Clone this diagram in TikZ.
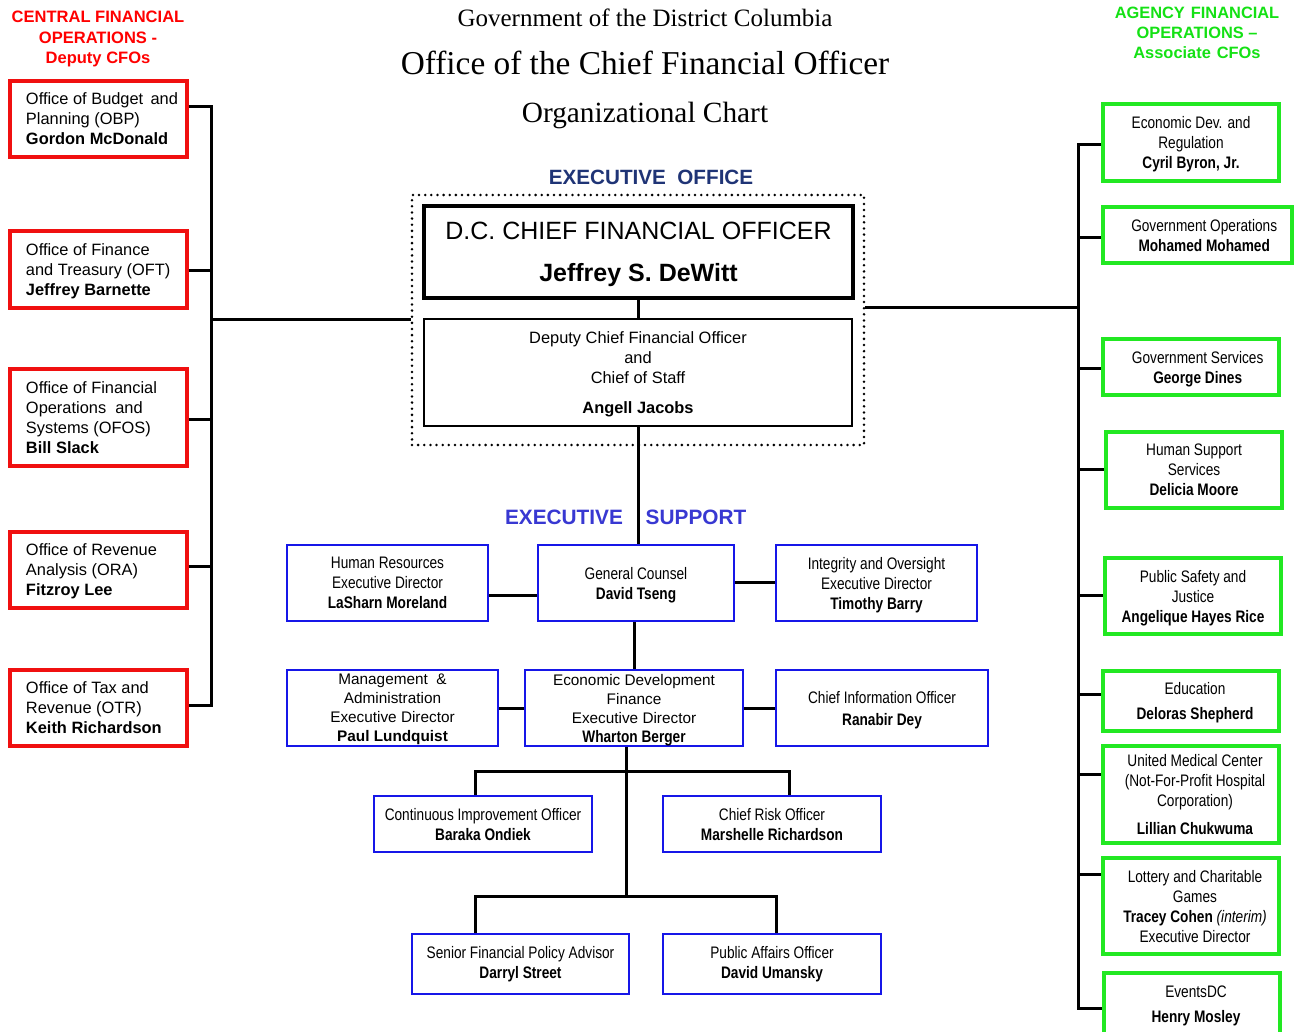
\documentclass[tikz,border=0pt]{standalone}
\usepackage{fontspec}
\setmainfont{Liberation Sans}
\newfontfamily\serifT{Liberation Serif}
\newfontfamily\narrow{Liberation Sans}[FakeStretch=0.82]
\definecolor{cred}{RGB}{240,16,16}
\definecolor{cgreen}{RGB}{34,232,34}
\definecolor{tgreen}{RGB}{20,225,20}
\definecolor{cblue}{RGB}{22,22,232}
\definecolor{lblue}{RGB}{56,56,210}
\definecolor{navy}{RGB}{31,52,118}
\newcommand\LL[1]{\hbox to 108.75pt{#1\hss}}
\newcommand\LLJ[2]{\hbox to 108.75pt{\rlap{\hbox to 114pt{#1\hfill #2}}\hss}}
\newcommand\SH{\hspace*{6pt}}
\newcommand\mybox[7]{%
  \pgfmathsetmacro\bw{(#4-#2)*0.75}%
  \pgfmathsetmacro\bh{(#5-#3)*0.75}%
  \node[#6, minimum width=\bw pt, minimum height=\bh pt] (#1) at ({(#2+#4)/2},{(#3+#5)/2}) {#7};}
\tikzset{
  conn/.style={line width=2.25pt, black, line join=miter},
  redbox/.style={draw=cred, line width=2.3pt, align=left, inner sep=1pt, text depth=-2pt, font=\fontsize{12.3}{15}\selectfont},
  greenbox/.style={draw=cgreen, line width=2.3pt, align=center, inner sep=1pt, text depth=-2pt, font=\narrow\fontsize{12.5}{15}\selectfont},
  bluebox/.style={draw=cblue, line width=1.9pt, align=center, inner sep=1pt, text depth=-2pt, font=\narrow\fontsize{12.5}{15}\selectfont},
  blueboxw/.style={bluebox, font=\fontsize{11.5}{14.25}\selectfont},
  dotbox/.style={draw, line width=2.1pt, line cap=round, dash pattern=on 0pt off 4.6pt},
  cfobox/.style={draw, line width=3pt, align=center, inner sep=1pt, text depth=0pt, font=\fontsize{18.75}{31.5}\selectfont},
  depbox/.style={draw, line width=1.9pt, align=center, inner sep=1pt, text depth=-2pt, font=\fontsize{12.3}{15}\selectfont},
  title/.style={font=\serifT, inner sep=0pt}
}
\begin{document}
\begin{tikzpicture}[x=0.75pt,y=-0.75pt]
\fill[white] (0,0) rectangle (1294,1031);
\useasboundingbox (0,0) rectangle (1294,1031);

% titles
\node[title, font=\serifT\fontsize{18.75}{20}\selectfont] (t1) at (645,18) {Government of the District Columbia};
\node[title, font=\serifT\fontsize{25}{26}\selectfont] (t2) at (645,63) {Office of the Chief Financial Officer};
\node[title, font=\serifT\fontsize{22}{24}\selectfont] (t3) at (645,115) {Organizational Chart};

% headers
\node[text=red, align=center, font=\bfseries\fontsize{12.4}{15.4}\selectfont] (hl) at (98,39) {CENTRAL FINANCIAL\\OPERATIONS -\\Deputy CFOs};
\node[text=tgreen, align=center, font=\bfseries\fontsize{12.3}{15}\selectfont] (hr1) at (1197,33) {AGENCY\hspace{4.5pt}FINANCIAL\\OPERATIONS --\\Associate\hspace{4.5pt}CFOs};

% executive office
\node[text=navy, font=\bfseries\fontsize{15.5}{17}\selectfont] (eo) at (651,177) {EXECUTIVE\ \ OFFICE};
\mybox{exec}{412}{195}{864}{445}{dotbox}{}
\mybox{cfo}{424}{206}{853}{298}{cfobox}{D.C. CHIEF FINANCIAL OFFICER\\\textbf{Jeffrey S. DeWitt}}
\mybox{dep}{424}{319}{852}{426}{depbox}{Deputy\ Chief\ Financial\ Officer\\and\\Chief\ of\ Staff\\[7.5pt]\textbf{Angell\ Jacobs}}

% executive support labels
\node[text=lblue, font=\bfseries\fontsize{15.6}{17}\selectfont] (es1) at (564,517) {EXECUTIVE};
\node[text=lblue, font=\bfseries\fontsize{15.6}{17}\selectfont] (es2) at (696,517) {SUPPORT};

% left boxes
\mybox{obp}{10}{81}{187}{157}{redbox}{\LLJ{Office of Budget}{and}\\\LL{Planning (OBP)}\\\LL{\textbf{Gordon McDonald}}}
\mybox{oft}{10}{231}{187}{308}{redbox}{\LL{Office of Finance}\\\LL{and Treasury (OFT)}\\\LL{\textbf{Jeffrey Barnette}}}
\mybox{ofos}{10}{369}{187}{466}{redbox}{\LL{Office of Financial}\\\LL{Operations\ \ and}\\\LL{Systems (OFOS)}\\\LL{\textbf{Bill Slack}}}
\mybox{ora}{10}{532}{187}{608}{redbox}{\LL{Office of Revenue}\\\LL{Analysis (ORA)}\\\LL{\textbf{Fitzroy Lee}}}
\mybox{otr}{10}{670}{187}{746}{redbox}{\LL{Office of Tax and}\\\LL{Revenue (OTR)}\\\LL{\textbf{Keith Richardson}}}

% right boxes
\mybox{g1}{1103}{104}{1279}{181}{greenbox}{Economic Dev. and\\Regulation\\\textbf{Cyril Byron, Jr.}}
\mybox{g2}{1103}{207}{1292}{263}{greenbox}{\hspace*{10pt}Government Operations\\\hspace*{10pt}\textbf{Mohamed Mohamed}}
\mybox{g3}{1103}{339}{1279}{395}{greenbox}{\hspace*{10pt}Government Services\\\hspace*{10pt}\textbf{George Dines}}
\mybox{g4}{1106}{432}{1282}{508}{greenbox}{Human Support\\Services\\\textbf{Delicia Moore}}
\mybox{g5}{1105}{558}{1281}{634}{greenbox}{Public Safety and\\Justice\\\textbf{Angelique Hayes Rice}}
\mybox{g6}{1103}{671}{1279}{731}{greenbox}{\SH Education\\[3.75pt]\SH\textbf{Deloras Shepherd}}
\mybox{g7}{1103}{746}{1279}{843}{greenbox}{\SH United Medical Center\\\SH(Not-For-Profit Hospital\\\SH Corporation)\\[6pt]\SH\textbf{Lillian Chukwuma}}
\mybox{g8}{1103}{858}{1279}{954}{greenbox}{\SH Lottery and Charitable\\\SH Games\\\SH\textbf{Tracey Cohen} \textit{(interim)}\\\SH Executive Director}
\mybox{g9}{1104}{973}{1280}{1036}{greenbox}{\SH EventsDC\\[3.75pt]\SH\textbf{Henry Mosley}}

% executive support boxes
\mybox{hr}{287}{545}{488}{621}{bluebox}{Human Resources\\Executive Director\\\textbf{LaSharn Moreland}}
\mybox{gc}{538}{545}{734}{621}{bluebox}{General Counsel\\\textbf{David Tseng}}
\mybox{io}{776}{545}{977}{621}{bluebox}{Integrity and Oversight\\Executive Director\\\textbf{Timothy Barry}}
\mybox{ma}{287}{670}{498}{746}{blueboxw}{Management\ \ \&\\Administration\\Executive\ Director\\\textbf{Paul Lundquist}}
\mybox{edf}{525}{670}{743}{746}{blueboxw}{Economic Development\\Finance\\Executive\ Director\\{\narrow\bfseries\fontsize{12.5}{14.25}\selectfont Wharton Berger}}
\mybox{cio}{776}{670}{988}{746}{bluebox}{Chief Information Officer\\[1.5pt]\textbf{Ranabir Dey}}
\mybox{ciof}{374}{796}{592}{852}{bluebox}{Continuous Improvement Officer\\\textbf{Baraka Ondiek}}
\mybox{cro}{663}{796}{881}{852}{bluebox}{Chief Risk Officer\\\textbf{Marshelle Richardson}}
\mybox{sfpa}{412}{934}{629}{994}{bluebox, text depth=2.6pt}{Senior Financial Policy Advisor\\\textbf{Darryl Street}}
\mybox{pao}{663}{934}{881}{994}{bluebox, text depth=2.6pt}{Public Affairs Officer\\\textbf{David Umansky}}

% left bus
\coordinate (lb1) at (211,106);
\coordinate (lb2) at (211,270);
\coordinate (lb3) at (211,419);
\coordinate (lb4) at (211,566);
\coordinate (lb5) at (211,705);
\coordinate (lbx) at (211,319);
\draw[conn] (lb1 -| obp.east) -- (lb1) -- (lb5) -- (lb5 -| otr.east);
\draw[conn] (lb2 -| oft.east) -- (lb2);
\draw[conn] (lb3 -| ofos.east) -- (lb3);
\draw[conn] (lb4 -| ora.east) -- (lb4);
\draw[conn] (lbx) -- (lbx -| exec.west);

% right bus
\coordinate (rb1) at (1078,144);
\coordinate (rb2) at (1078,237);
\coordinate (rb3) at (1078,368);
\coordinate (rb4) at (1078,469);
\coordinate (rb5) at (1078,595);
\coordinate (rb6) at (1078,694);
\coordinate (rb7) at (1078,774);
\coordinate (rb8) at (1078,874);
\coordinate (rb9) at (1078,1008);
\coordinate (rbx) at (1078,307);
\draw[conn] (rb1 -| g1.west) -- (rb1) -- (rb9) -- (rb9 -| g9.west);
\draw[conn] (rb2) -- (rb2 -| g2.west);
\draw[conn] (rb3) -- (rb3 -| g3.west);
\draw[conn] (rb4) -- (rb4 -| g4.west);
\draw[conn] (rb5) -- (rb5 -| g5.west);
\draw[conn] (rb6) -- (rb6 -| g6.west);
\draw[conn] (rb7) -- (rb7 -| g7.west);
\draw[conn] (rb8) -- (rb8 -| g8.west);
\draw[conn] (rbx -| exec.east) -- (rbx);

% center
\draw[conn] (cfo.south) -- (cfo.south |- dep.north);
\draw[conn] (dep.south) -- (dep.south |- gc.north);
\draw[conn] (edf.north |- gc.south) -- (edf.north);
\coordinate (yA) at (0,595);
\coordinate (yB) at (0,582);
\coordinate (yC) at (0,708);
\draw[conn] (hr.east |- yA) -- (gc.west |- yA);
\draw[conn] (gc.east |- yB) -- (io.west |- yB);
\draw[conn] (ma.east |- yC) -- (edf.west |- yC);
\draw[conn] (edf.east |- yC) -- (cio.west |- yC);
\coordinate (t1) at (626,771);
\coordinate (t2) at (626,896);
\draw[conn] (t1 |- edf.south) -- (t2);
\coordinate (a1) at (475,771);
\coordinate (a2) at (789,771);
\draw[conn] (a1 |- ciof.north) -- (a1) -- (a2) -- (a2 |- cro.north);
\coordinate (b1) at (475,896);
\coordinate (b2) at (776,896);
\draw[conn] (b1 |- sfpa.north) -- (b1) -- (b2) -- (b2 |- pao.north);
\end{tikzpicture}
\end{document}
